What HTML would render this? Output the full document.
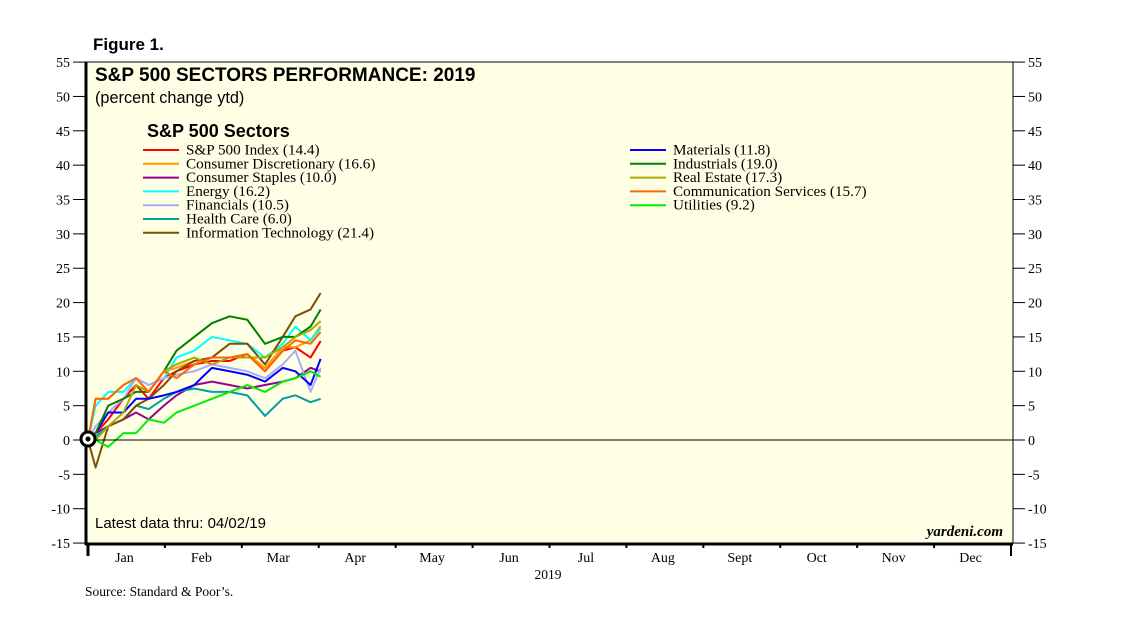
<!DOCTYPE html>
<html><head><meta charset="utf-8"><style>
body{margin:0;background:#fff;}
svg text{font-family:"Liberation Serif",serif;}
.sans{font-family:"Liberation Sans",sans-serif;}
</style></head><body>
<svg id="c" width="1138" height="625" xmlns="http://www.w3.org/2000/svg">
<rect x="85" y="62" width="928" height="481" fill="#ffffe6" stroke="#000" stroke-width="1"/>
<line x1="86" y1="62" x2="86" y2="545" stroke="#000" stroke-width="3"/>
<line x1="85" y1="544" x2="1013" y2="544" stroke="#000" stroke-width="3"/>
<text x="93" y="50" class="sans" font-size="17" font-weight="bold">Figure 1.</text>
<text x="95" y="81" class="sans" font-size="19" font-weight="bold">S&amp;P 500 SECTORS PERFORMANCE: 2019</text>
<text x="95" y="103" class="sans" font-size="16.3">(percent change ytd)</text>
<text x="147" y="137" class="sans" font-size="18" font-weight="bold">S&amp;P 500 Sectors</text>
<text x="95" y="528" class="sans" font-size="15">Latest data thru: 04/02/19</text>
<text x="1003" y="536" font-size="15" font-style="italic" font-weight="bold" text-anchor="end">yardeni.com</text>
<text x="548" y="579" font-size="13.5" text-anchor="middle">2019</text>
<text x="85" y="596" font-size="13.5">Source: Standard &amp; Poor’s.</text>
<g id="axes"></g><g id="legend"></g><g id="lines"></g>
<line x1="85" y1="440" x2="1013" y2="440" stroke="#000" stroke-width="1"/>
<circle cx="88" cy="439" r="7" fill="#fff" stroke="#000" stroke-width="3"/>
<circle cx="88" cy="439" r="2.5" fill="#000"/>
</svg>
<script>
const yTicks=[55,50,45,40,35,30,25,20,15,10,5,0,-5,-10,-15];
const months=["Jan","Feb","Mar","Apr","May","Jun","Jul","Aug","Sept","Oct","Nov","Dec"];
const names=["S&P 500 Index (14.4)","Consumer Discretionary (16.6)","Consumer Staples (10.0)","Energy (16.2)","Financials (10.5)","Health Care (6.0)","Information Technology (21.4)","Materials (11.8)","Industrials (19.0)","Real Estate (17.3)","Communication Services (15.7)","Utilities (9.2)"];
const colors=["#ff0000","#ff9900","#990099","#00ffff","#aaaaff","#00a0a0","#7f4f00","#0000ff","#007f00","#aaaa00","#ff6600","#00ee00"];
const days=[0,3,8,14,19,24,30,35,42,49,56,63,70,77,82,88,92];
const s0=[0,1,3,6,8,6,9,10,11,11.5,11.5,12.5,10,13,13.5,12,14.4];
const s1=[0,6,6,8,9,7,10,10.5,11.5,12,12,12.5,10.5,13.5,13.5,14.5,16.6];
const s2=[0,1,2,3,4,3,5,6.5,8,8.5,8,7.5,8,8.5,9,10.5,10];
const s3=[0,5,7,7,9,8,9,12,13,15,14.5,14,12,14,16.5,14.5,16.2];
const s4=[0,2,4,6,9,8,9,9.5,10,11,10.5,10,9,11,13,7,10.5];
const s5=[0,0.5,2,3,5,4.5,6,7,7.5,7,7,6.5,3.5,6,6.5,5.5,6.0];
const s6=[0,-4,2,3,5,6,8,10,11.5,12,14,14,11,15,18,19,21.4];
const s7=[0,1,4,4,6,6,6.5,7,8,10.5,10,9.5,8.5,10.5,10,8,11.8];
const s8=[0,1,5,6,7,7,10,13,15,17,18,17.5,14,15,15,16.5,19];
const s9=[0,0,2,4,8,7,10,11,12,11,12,12,12,13.5,15,16,17.3];
const s10=[0,6,6,8,9,7,10,9,11,12,12,12.5,10,13,14.5,14,15.7];
const s11=[0,0,-1,1,1,3,2.5,4,5,6,7,8,7,8.5,9,10,9.2];
const series=[s0,s1,s2,s3,s4,s5,s6,s7,s8,s9,s10,s11];
const NS="http://www.w3.org/2000/svg";
const y=v=>440-v*6.871;
const x=d=>88+d*(923/365);
function mk(t,a,p){const e=document.createElementNS(NS,t);for(const k in a)e.setAttribute(k,a[k]);p.appendChild(e);return e;}
const ax=document.getElementById('axes');
yTicks.forEach(v=>{
 let l=mk('line',{x1:73,x2:85,y1:y(v),y2:y(v),stroke:'#000'},ax);
 
 
 mk('line',{x1:1013,x2:1025,y1:y(v),y2:y(v),stroke:'#000'},ax);
 let t=mk('text',{x:70,y:y(v)+5,'font-size':14,'text-anchor':'end'},ax);t.textContent=v;
 
 
 let t2=mk('text',{x:1028,y:y(v)+5,'font-size':14},ax);t2.textContent=v;
 
 
});
const mw=923/12;
months.forEach((m,i)=>{
 mk('line',{x1:88+i*mw,x2:88+i*mw,y1:543,y2:i==0?556:548,stroke:'#000','stroke-width':i==0?3:2},ax);
 let t=mk('text',{x:86+(i+0.5)*mw,y:562,'font-size':14,'text-anchor':'middle'},ax);t.textContent=m;
 
 
});
mk('line',{x1:1011,x2:1011,y1:543,y2:556,stroke:'#000','stroke-width':2},ax);
const lg=document.getElementById('legend');
names.forEach((n,i)=>{
 const col=i<7?0:1,row=i<7?i:i-7;
 const lx=col?630:143,ty=150+row*13.8;
 mk('line',{x1:lx,x2:lx+36,y1:ty,y2:ty,stroke:colors[i],'stroke-width':2},lg);
 let t=mk('text',{x:lx+43,y:ty+4.5,'font-size':15.2},lg);t.textContent=n;
 
 
});
const ln=document.getElementById('lines');
series.forEach((s,i)=>{
 const p=mk('polyline',{points:s.map((v,j)=>x(days[j])+','+y(v)).join(' '),fill:'none',stroke:colors[i],'stroke-width':2,'stroke-linejoin':'round'},ln);
 
 
});
</script>
</body></html>
